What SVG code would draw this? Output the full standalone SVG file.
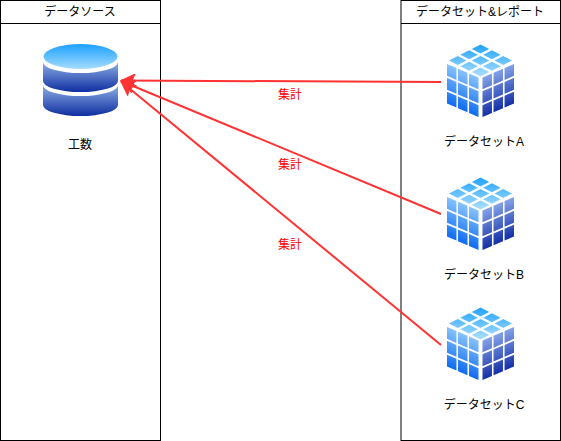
<svg xmlns="http://www.w3.org/2000/svg" xmlns:xlink="http://www.w3.org/1999/xlink" width="561" height="441" viewBox="0 0 561 441">
<style>
text{font-family:"Liberation Sans","Noto Sans CJK JP",sans-serif;font-size:12px;fill:#000;text-anchor:middle}
.panel{fill:#fff;stroke:#000;stroke-width:1}
.edge{fill:none;stroke:#ff3333;stroke-width:2}
.lbl{fill:#ff0000}
</style>
<defs>
<marker id="arr" markerUnits="userSpaceOnUse" markerWidth="16" markerHeight="14" refX="15" refY="7" orient="auto"><path d="M15 7L1 0.500L4 7L1 13.500Z" fill="#ff3333" stroke="#ff3333"/></marker>
<linearGradient id="cylTop" x1="0" y1="0" x2="0" y2="1"><stop offset="0" stop-color="#1ca0ff"/><stop offset="1" stop-color="#a5dcff"/></linearGradient>
<linearGradient id="cylBand" x1="0" y1="0" x2="0" y2="1"><stop offset="0" stop-color="#8fb0e6"/><stop offset="1" stop-color="#0f2ea0"/></linearGradient>
<linearGradient id="cubeTop" gradientUnits="userSpaceOnUse" x1="0" y1="0" x2="10" y2="10"><stop offset="0" stop-color="#1ea2fb"/><stop offset="1" stop-color="#aee0ff"/></linearGradient>
<linearGradient id="cubeL" x1="0" y1="0" x2="0" y2="10" gradientUnits="userSpaceOnUse"><stop offset="0" stop-color="#86c2ff"/><stop offset="1" stop-color="#0f6cf0"/></linearGradient>
<linearGradient id="cubeR" x1="0" y1="0" x2="0" y2="10" gradientUnits="userSpaceOnUse"><stop offset="0" stop-color="#84a2e8"/><stop offset="1" stop-color="#1530a6"/></linearGradient>
<g id="tiles">
<rect x="0" y="0" width="3" height="3"/><rect x="3.5" y="0" width="3" height="3"/><rect x="7" y="0" width="3" height="3"/>
<rect x="0" y="3.5" width="3" height="3"/><rect x="3.5" y="3.5" width="3" height="3"/><rect x="7" y="3.5" width="3" height="3"/>
<rect x="0" y="7" width="3" height="3"/><rect x="3.5" y="7" width="3" height="3"/><rect x="7" y="7" width="3" height="3"/>
</g>
<g id="cube">
<use xlink:href="#tiles" href="#tiles" fill="url(#cubeL)" transform="matrix(3.15 1.35 0 3.95 447 64)"/>
<use xlink:href="#tiles" href="#tiles" fill="url(#cubeR)" transform="matrix(3.15 -1.35 0 3.95 482.5 77.5)"/>
<use xlink:href="#tiles" href="#tiles" fill="url(#cubeTop)" stroke="#fff" stroke-width="0.3" transform="matrix(3.25 1.65 -3.25 1.65 480.5 44)"/>
</g>
</defs>
<g id="panel-source">
<rect class="panel" x="0.5" y="0.5" width="160" height="440"/>
<path d="M0.5 23.5H160.5" stroke="#000" fill="none"/>
<text x="80" y="16">データソース</text>
</g>
<g id="panel-datasets">
<rect class="panel" x="401" y="0.5" width="159.5" height="440"/>
<path d="M401 23.5H560.5" stroke="#000" fill="none"/>
<text x="480" y="16">データセット&amp;レポート</text>
</g>
<g id="node-kosu">
<path d="M43 85V105A37.500 11 0 0 0 118 105V85A37.500 11 0 0 1 43 85Z" fill="url(#cylBand)"/>
<path d="M43 62V81A37.500 11 0 0 0 118 81V62A37.500 11 0 0 1 43 62Z" fill="url(#cylBand)"/>
<ellipse cx="80.500" cy="56.500" rx="37" ry="12.500" fill="url(#cylTop)"/>
<text x="80" y="149">工数</text>
</g>
<g id="node-a"><use xlink:href="#cube" href="#cube"/><text x="484" y="146">データセットA</text></g>
<g id="node-b"><use xlink:href="#cube" href="#cube" y="133"/><text x="484" y="279">データセットB</text></g>
<g id="node-c"><use xlink:href="#cube" href="#cube" y="263"/><text x="484" y="409">データセットC</text></g>
<g id="connectors">
<path class="edge" d="M441 82L121 80.500" marker-end="url(#arr)"/>
<path class="edge" d="M441 214L121 81" marker-end="url(#arr)"/>
<path class="edge" d="M441 345L121 81.500" marker-end="url(#arr)"/>
<text class="lbl" x="290" y="99">集計</text>
<text class="lbl" x="290" y="169">集計</text>
<text class="lbl" x="290" y="249">集計</text>
</g>
</svg>
